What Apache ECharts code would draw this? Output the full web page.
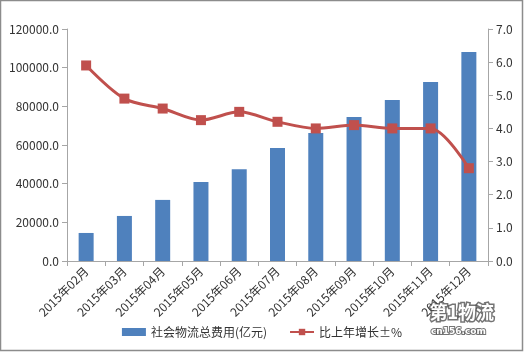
<!DOCTYPE html>
<html lang="zh">
	<head>
		<meta charset="utf-8">
		<title></title>
		<script type="text/javascript" src="https://cdn.jsdelivr.net/npm/echarts@6/dist/echarts.min.js"></script>
		<style type="text/css">
			html, body {
				margin: 0;
				padding: 0;
				background: #fff;
			}
		</style>
	</head>
	<body>
		<div id="chart0" style="width:524px; height: 353px;"></div>
		<script type="text/javascript">
			var months = ['2015年02月', '2015年03月', '2015年04月', '2015年05月', '2015年06月', '2015年07月',
				'2015年08月', '2015年09月', '2015年10月', '2015年11月', '2015年12月'
			];
			// 社会物流总费用(亿元)
			var cost = [14500, 23300, 31600, 40800, 47500, 58400, 66200, 74500, 83300, 92600, 108100];
			// 比上年增长±%
			var growth = [5.9, 4.9, 4.6, 4.25, 4.5, 4.2, 4.0, 4.1, 4.0, 4.0, 2.8];

			var axisGray = '#a6a6a6';
			var myChart = echarts.init(document.getElementById('chart0'));
			myChart.setOption({
				animation: false,
				textStyle: {
					fontFamily: '"Noto Sans CJK SC", "DejaVu Sans", sans-serif'
				},
				graphic: [{
					type: 'rect',
					shape: { x: 0.5, y: 0.5, width: 522, height: 350 },
					style: { fill: 'none', stroke: '#8c8c8c', lineWidth: 1.5 }
				}, {
					// 水印
					type: 'text',
					left: 428,
					top: 302,
					z: 10,
					style: {
						text: '第1物流',
						fill: '#fff',
						stroke: 'rgba(70,70,70,0.75)',
						lineWidth: 3,
						font: 'bold 18px "Noto Sans CJK SC"'
					}
				}, {
					type: 'text',
					left: 430,
					top: 326,
					z: 10,
					style: {
						text: 'cn156.com',
						fill: '#fff',
						stroke: 'rgba(70,70,70,0.75)',
						lineWidth: 2,
						font: 'bold 9px "DejaVu Sans"'
					}
				}],
				grid: {
					left: 67,
					right: 36,
					top: 29,
					bottom: 92
				},
				legend: {
					bottom: 10,
					left: 'center',
					itemGap: 22,
					itemWidth: 24,
					itemHeight: 8,
					textStyle: { color: '#333', fontSize: 12 },
					data: [{ name: '社会物流总费用(亿元)', icon: 'rect' }, { name: '比上年增长±%' }]
				},
				xAxis: {
					type: 'category',
					data: months,
					axisLine: { lineStyle: { color: axisGray } },
					axisTick: { show: true, lineStyle: { color: axisGray } },
					axisLabel: { rotate: 45, color: '#333', fontSize: 12, margin: 8, interval: 0 }
				},
				yAxis: [{
					type: 'value',
					min: 0,
					max: 120000,
					interval: 20000,
					splitLine: { show: false },
					axisLine: { show: true, lineStyle: { color: axisGray } },
					axisTick: { show: true, lineStyle: { color: axisGray } },
					axisLabel: {
						color: '#333',
						fontSize: 12,
						formatter: function(v) { return v.toFixed(1); }
					}
				}, {
					type: 'value',
					min: 0,
					max: 7,
					interval: 1,
					splitLine: { show: false },
					axisLine: { show: true, lineStyle: { color: axisGray } },
					axisTick: { show: true, lineStyle: { color: axisGray } },
					axisLabel: {
						color: '#333',
						fontSize: 12,
						formatter: function(v) { return v.toFixed(1); }
					}
				}],
				series: [{
					name: '社会物流总费用(亿元)',
					type: 'bar',
					barWidth: 15,
					itemStyle: { color: '#4f81bd' },
					data: cost
				}, {
					name: '比上年增长±%',
					type: 'line',
					yAxisIndex: 1,
					smooth: 0.3,
					symbol: 'rect',
					symbolSize: 10,
					itemStyle: { color: '#c0504d' },
					lineStyle: { color: '#c0504d', width: 3 },
					data: growth
				}]
			});
		</script>
	</body>
</html>
